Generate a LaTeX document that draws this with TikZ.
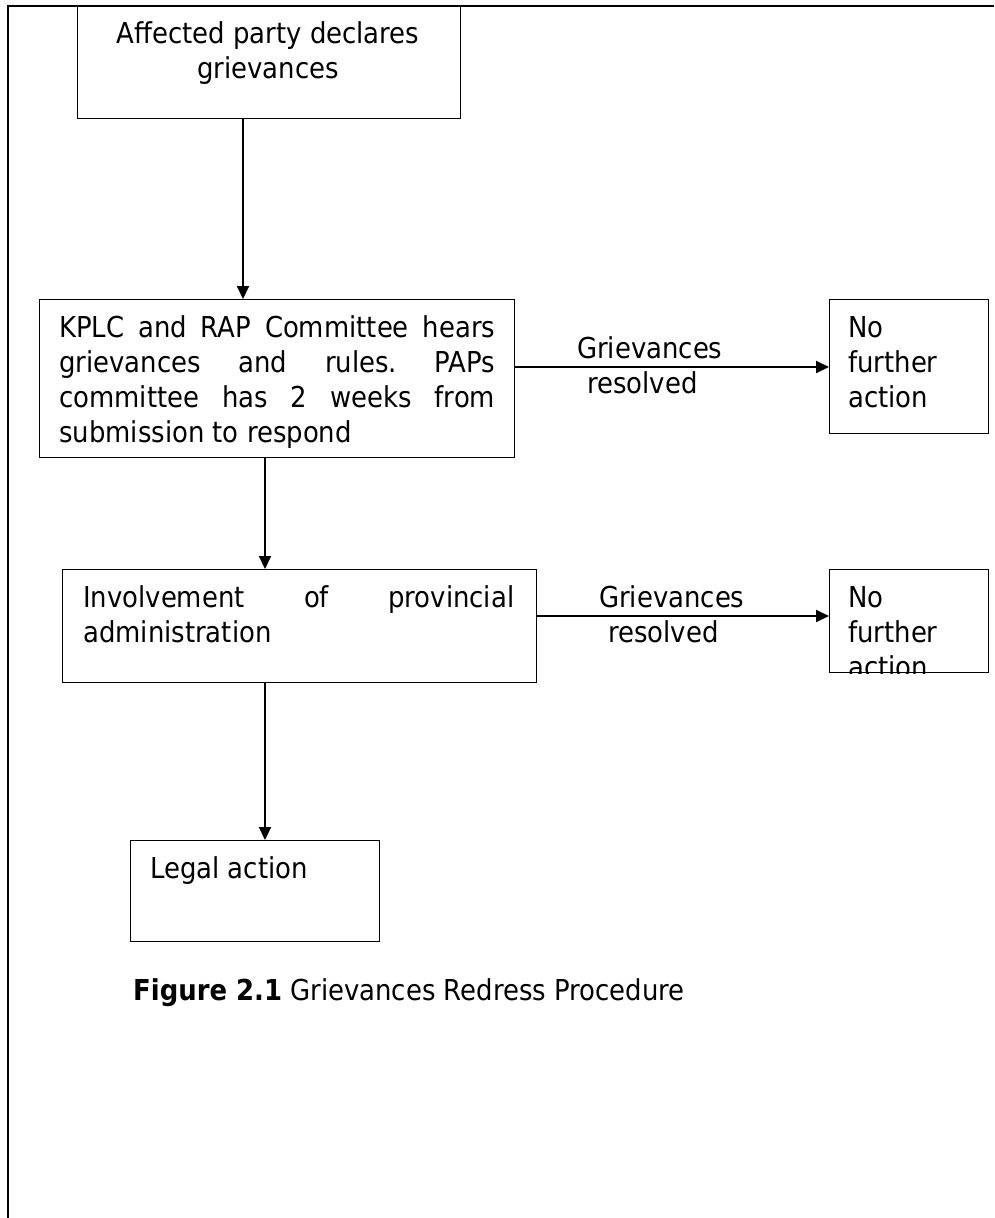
\documentclass[tikz,border=0pt]{standalone}
\usepackage{fontspec}
\setmainfont{DejaVu Sans}[FakeStretch=0.9]
\usetikzlibrary{arrows.meta}
\frenchspacing
\begin{document}
\begin{tikzpicture}[x=1pt,y=-1pt,
  box/.style={draw, line width=1.3pt, inner sep=0pt, anchor=north west},
  txt/.style={inner sep=0pt, anchor=base west, font=\fontsize{28.8}{35}\selectfont},
  arr/.style={line width=2pt, -{Triangle[length=13pt,width=12pt]}},
  frameline/.style={line width=1.5pt}]
\useasboundingbox (0,0) rectangle (994,1218);
% frame
\draw[frameline] (994,6) -- (8,6) -- (8,1218);
% boxes
\node[box, minimum width=383pt, minimum height=112pt] (b1) at (77,6) {};
\node[box, minimum width=475pt, minimum height=158pt] (b2) at (39,299) {};
\node[box, minimum width=159pt, minimum height=134pt] (r1) at (829,299) {};
\node[box, minimum width=474pt, minimum height=113pt] (b3) at (62,569) {};
\node[box, minimum width=159pt, minimum height=103pt] (r2) at (829,569) {};
\node[box, minimum width=249pt, minimum height=101pt] (b4) at (130,840) {};
% texts
\node[txt, anchor=base] (t1) at (268,43) {\parbox[t]{370pt}{\centering Affected party declares\\ grievances}};
\node[txt] (t2) at (59,337) {\parbox[t]{436pt}{\makebox[\linewidth][s]{KPLC and RAP Committee hears}\\ \makebox[\linewidth][s]{grievances and rules. PAPs}\\ \makebox[\linewidth][s]{committee has 2 weeks from}\\ submission to respond}};
\node[txt] (t3) at (83,607) {\parbox[t]{431pt}{\makebox[\linewidth][s]{Involvement of provincial}\\ administration}};
\node[txt] (t4) at (848,337) {\parbox[t]{130pt}{No\\ further\\ action}};
\begin{scope}
\clip (r2.north west) rectangle (r2.south east);
\node[txt] (t5) at (848,607) {\parbox[t]{130pt}{No\\ further\\ action}};
\end{scope}
\node[txt] (t6) at (150,878) {Legal action};
\node[txt] (l1a) at (577,358) {Grievances};
\node[txt] (l1b) at (587,393) {resolved};
\node[txt] (l2a) at (599,607) {Grievances};
\node[txt] (l2b) at (608,642) {resolved};
\node[txt] (cap) at (133,1000) {\textbf{Figure 2.1} Grievances Redress Procedure};
% connector guides
\coordinate (xa) at (243,0);
\coordinate (xb) at (265,0);
\coordinate (ya) at (0,367);
\coordinate (yb) at (0,616);
% connectors
\draw[arr] (b1.south -| xa) -- (b2.north -| xa);
\draw[arr] (b2.south -| xb) -- (b3.north -| xb);
\draw[arr] (b3.south -| xb) -- (b4.north -| xb);
\draw[arr] (b2.east |- ya) -- (r1.west |- ya);
\draw[arr] (b3.east |- yb) -- (r2.west |- yb);
\end{tikzpicture}
\end{document}
